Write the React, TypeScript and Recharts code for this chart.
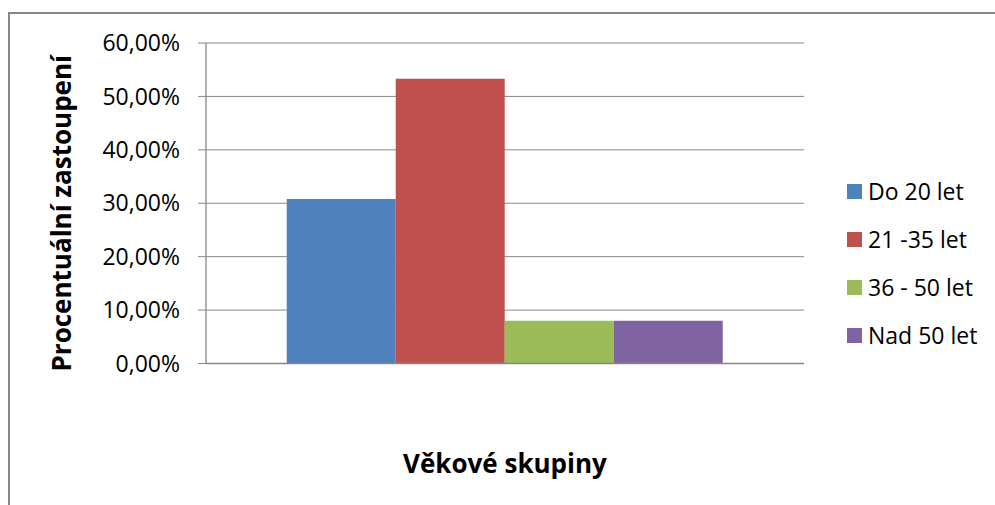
import React from 'react';
import { BarChart, Bar, XAxis, YAxis, CartesianGrid, Legend } from 'recharts';

// Share of respondents per age group (in %)
const groups = ['Do 20 let', '21 -35 let', '36 - 50 let', 'Nad 50 let'];
const shares = [30.8, 53.3, 8.0, 8.0];
const colors = ['#4F81BD', '#C0504D', '#9BBB59', '#8064A2'];
const yTicks = [0, 10, 20, 30, 40, 50, 60];

const keys = groups.map((_, i) => `g${i}`);
const chartData = [
  keys.reduce((row: Record<string, number | string>, k, i) => {
    row[k] = shares[i];
    return row;
  }, { name: '' }),
];

const FONT = '"Open Sans", "Noto Sans", sans-serif';
const GREY = '#878787';

const formatPct = (v: number) => `${v.toFixed(2).replace('.', ',')}%`;

const LegendBox = () => (
  <div style={{ fontFamily: FONT, fontSize: 23, color: '#000' }}>
    {groups.map((g, i) => (
      <div key={g} style={{ display: 'flex', alignItems: 'center', height: 48 }}>
        <span style={{ width: 15, height: 15, background: colors[i], marginRight: 6, display: 'inline-block' }} />
        <span>{g}</span>
      </div>
    ))}
  </div>
);

export default function App() {
  return (
    <div style={{ position: 'fixed', left: 0, top: 0, width: 995, height: 505, background: '#fff', overflow: 'hidden' }}>
      {/* chart frame */}
      <div
        style={{
          position: 'absolute',
          left: 8,
          top: 12,
          width: 1100,
          height: 600,
          borderLeft: `2px solid ${GREY}`,
          borderTop: `2px solid ${GREY}`,
        }}
      />
      <div style={{ position: 'absolute', left: 0, top: 0 }}>
        <BarChart
          width={995}
          height={505}
          data={chartData}
          margin={{ top: 43, right: 191, left: 0, bottom: 41.5 }}
          barCategoryGap="13.5%"
          barGap={0}
        >
          <CartesianGrid vertical={false} stroke={GREY} strokeWidth={1} />
          <XAxis
            dataKey="name"
            height={100}
            tick={false}
            tickLine={false}
            axisLine={{ stroke: GREY, strokeWidth: 1.3 }}
            label={{
              value: 'Věkové skupiny',
              position: 'center',
              dy: 50,
              style: { fontFamily: FONT, fontSize: 26, fontWeight: 700, fill: '#000' },
            }}
          />
          <YAxis
            width={206}
            domain={[0, 60]}
            ticks={yTicks}
            tickFormatter={formatPct}
            tickSize={8}
            tickMargin={18}
            tickLine={{ stroke: GREY }}
            axisLine={{ stroke: GREY, strokeWidth: 1.3 }}
            tick={{ fontFamily: FONT, fontSize: 23, fill: '#000' }}
            label={{
              value: 'Procentuální zastoupení',
              angle: -90,
              position: 'center',
              dx: -41,
              dy: 10,
              style: { fontFamily: FONT, fontSize: 26, fontWeight: 700, fill: '#000' },
            }}
          />
          <Legend
            layout="vertical"
            align="center"
            verticalAlign="middle"
            content={() => <LegendBox />}
            wrapperStyle={{ left: 847, top: 167, width: 148 }}
          />
          {keys.map((k, i) => (
            <Bar key={k} dataKey={k} name={groups[i]} fill={colors[i]} isAnimationActive={false} />
          ))}
        </BarChart>
      </div>
    </div>
  );
}
